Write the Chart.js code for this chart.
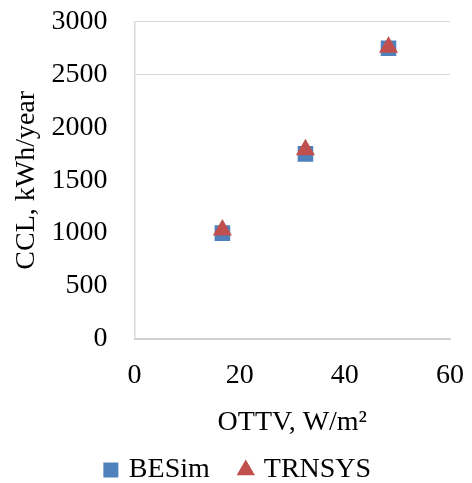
<!DOCTYPE html>
<html>
<head>
<meta charset="utf-8">
<script src="https://cdn.jsdelivr.net/npm/chart.js@4/dist/chart.umd.min.js"></script>
<style>
  html, body { margin: 0; padding: 0; background: #fff; }
  #wrap { width: 472px; height: 483px; }
</style>
</head>
<body>
<div id="wrap"><canvas id="ccl"></canvas></div>
<script>
var ottv = [16.7, 32.5, 48.3];
var besim = [1000, 1750, 2750];
var trnsys = [1030, 1790, 2760];
var seriesNames = ['BESim', 'TRNSYS'];
var xTicks = [0, 20, 40, 60];
var yTicks = [0, 500, 1000, 1500, 2000, 2500, 3000];

var serif = "'Liberation Serif', 'Times New Roman', serif";

function points(xs, ys) {
    return xs.map(function (x, i) { return {x: x, y: ys[i]}; });
}

var cclChart = new Chart(document.getElementById('ccl'), {
    type: 'scatter',
    data: {
        datasets: [{
            label: seriesNames[0],
            data: points(ottv, besim),
            pointStyle: 'rect',
            pointRadius: 11,
            pointHoverRadius: 11,
            backgroundColor: '#4F81BD',
            borderColor: '#4F81BD',
            borderWidth: 0,
            order: 1
        }, {
            label: seriesNames[1],
            data: points(ottv, trnsys),
            pointStyle: 'triangle',
            pointRadius: 11,
            pointHoverRadius: 11,
            backgroundColor: '#C0504D',
            borderColor: '#C0504D',
            borderWidth: 0,
            order: 0
        }]
    },
    options: {
        responsive: true,
        maintainAspectRatio: false,
        animation: false,
        layout: {
            // legend sits low, close to the bottom edge
            padding: {left: 6, right: 0, top: 0, bottom: -11}
        },
        plugins: {
            tooltip: {enabled: false},
            legend: {
                position: 'bottom',
                labels: {
                    usePointStyle: true,
                    boxWidth: 8,
                    boxHeight: 15,
                    padding: 32,
                    color: '#000',
                    font: {family: serif, size: 28},
                    sort: function (a, b) { return a.datasetIndex - b.datasetIndex; }
                }
            }
        },
        scales: {
            x: {
                type: 'linear',
                min: xTicks[0],
                max: xTicks[xTicks.length - 1],
                afterBuildTicks: function (axis) {
                    axis.ticks = xTicks.map(function (v) { return {value: v}; });
                },
                ticks: {color: '#000', padding: 8, font: {family: serif, size: 28}},
                grid: {
                    drawOnChartArea: false,
                    drawTicks: true,
                    tickLength: 12,
                    tickColor: 'rgba(0,0,0,0)'
                },
                border: {display: true, color: '#d0d0d0', width: 2},
                title: {
                    display: true,
                    text: 'OTTV, W/m\u00B2',
                    color: '#000',
                    padding: {top: 5.6, bottom: -15.6},
                    font: {family: serif, size: 28}
                }
            },
            y: {
                min: yTicks[0],
                max: yTicks[yTicks.length - 1],
                afterBuildTicks: function (axis) {
                    axis.ticks = yTicks.map(function (v) { return {value: v}; });
                },
                ticks: {
                    color: '#000',
                    padding: 5,
                    font: {family: serif, size: 28},
                    callback: function (v) { return String(v); }
                },
                grid: {
                    drawTicks: true,
                    tickLength: 22,
                    tickColor: 'rgba(0,0,0,0)',
                    color: function (ctx) {
                        var v = ctx.tick && ctx.tick.value;
                        return (v === 2500 || v === 3000) ? '#d9d9d9' : 'rgba(0,0,0,0)';
                    }
                },
                border: {display: true, color: '#d9d9d9', width: 1.5},
                title: {
                    display: true,
                    text: 'CCL, kWh/year',
                    color: '#000',
                    padding: {top: 4, bottom: 3},
                    font: {family: serif, size: 28}
                }
            }
        }
    }
});
</script>
</body>
</html>
